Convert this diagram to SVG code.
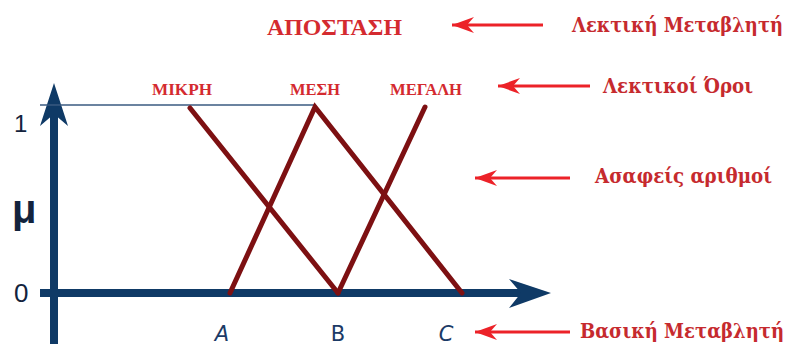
<svg xmlns="http://www.w3.org/2000/svg" width="786" height="344" viewBox="0 0 786 344">
<style>
.lbl{font-family:"Liberation Serif","DejaVu Serif",serif;font-weight:bold;fill:#d42a2f}
.trm{font-family:"Liberation Serif","DejaVu Serif",serif;font-weight:bold;fill:#d42a2f;font-size:17px}
.ann{font-family:"DejaVu Serif","Liberation Serif",serif;font-weight:bold;fill:#c62a2e;font-size:20px}
.ax{font-family:"Liberation Sans",Arial,sans-serif;fill:#13233d}
.abc{font-family:"DejaVu Sans",sans-serif;fill:#1b3a66;font-size:21px}
.mf{stroke:#7d1012;stroke-width:5;fill:none;stroke-linecap:round}
.rarr{stroke:#ec2228;stroke-width:3;fill:none}
.axis{stroke:#0f3a66;stroke-width:8;fill:none}
</style>
<defs>
<marker id="ra" markerUnits="userSpaceOnUse" viewBox="-24 -10 26 20" refX="0" refY="0" markerWidth="26" markerHeight="20" orient="auto">
<path d="M0,0 L-22,-8 L-15,0 L-22,8 Z" fill="#ec2228"/>
</marker>
</defs>
<rect width="786" height="344" fill="#ffffff"/>
<g id="axes">
<line class="axis" x1="54" y1="344" x2="54" y2="110"/>
<polygon points="54,83 68,126 54,114 40,126" fill="#0f3a66"/>
<line class="axis" x1="40" y1="293" x2="525" y2="293"/>
<polygon points="551,293 509,279 521,293 509,308" fill="#0f3a66"/>
<line x1="40" y1="105" x2="315" y2="105" stroke="#3a5a80" stroke-width="1.5"/>
</g>
<g id="connectors">
<polyline class="mf" points="190,108 338,293"/>
<polyline class="mf" points="230,293 315,107 462,293"/>
<polyline class="mf" points="338,293 425,107"/>
<line class="rarr" x1="543" y1="25" x2="452" y2="25" marker-end="url(#ra)"/>
<line class="rarr" x1="590" y1="86" x2="498" y2="86" marker-end="url(#ra)"/>
<line class="rarr" x1="570" y1="178" x2="475" y2="178" marker-end="url(#ra)"/>
<line class="rarr" x1="570" y1="332" x2="475" y2="332" marker-end="url(#ra)"/>
</g>
<g id="axis-labels">
<text class="ax" x="14" y="132" font-size="24">1</text>
<text class="ax" x="12" y="223" font-size="40" font-weight="bold">μ</text>
<text class="ax" x="14" y="302" font-size="26">0</text>
<text class="abc" x="222" y="341" text-anchor="middle" font-style="italic">A</text>
<text class="abc" x="338" y="341" text-anchor="middle">B</text>
<text class="abc" x="446" y="341" text-anchor="middle" font-style="italic">C</text>
</g>
<g id="title"><text class="lbl" x="267" y="35" font-size="24" textLength="135" lengthAdjust="spacingAndGlyphs">ΑΠΟΣΤΑΣΗ</text></g>
<g id="terms">
<text class="trm" x="152" y="95" textLength="60" lengthAdjust="spacingAndGlyphs">ΜΙΚΡΗ</text>
<text class="trm" x="290" y="95" textLength="50" lengthAdjust="spacingAndGlyphs">ΜΕΣΗ</text>
<text class="trm" x="390" y="95" textLength="72" lengthAdjust="spacingAndGlyphs">ΜΕΓΑΛΗ</text>
</g>
<g id="annotations">
<text class="ann" x="572" y="32" textLength="211" lengthAdjust="spacingAndGlyphs">Λεκτική Μεταβλητή</text>
<text class="ann" x="603" y="93" textLength="150" lengthAdjust="spacingAndGlyphs">Λεκτικοί Όροι</text>
<text class="ann" x="595" y="183" textLength="177" lengthAdjust="spacingAndGlyphs">Ασαφείς αριθμοί</text>
<text class="ann" x="580" y="338" textLength="204" lengthAdjust="spacingAndGlyphs">Βασική Μεταβλητή</text>
</g>
</svg>
